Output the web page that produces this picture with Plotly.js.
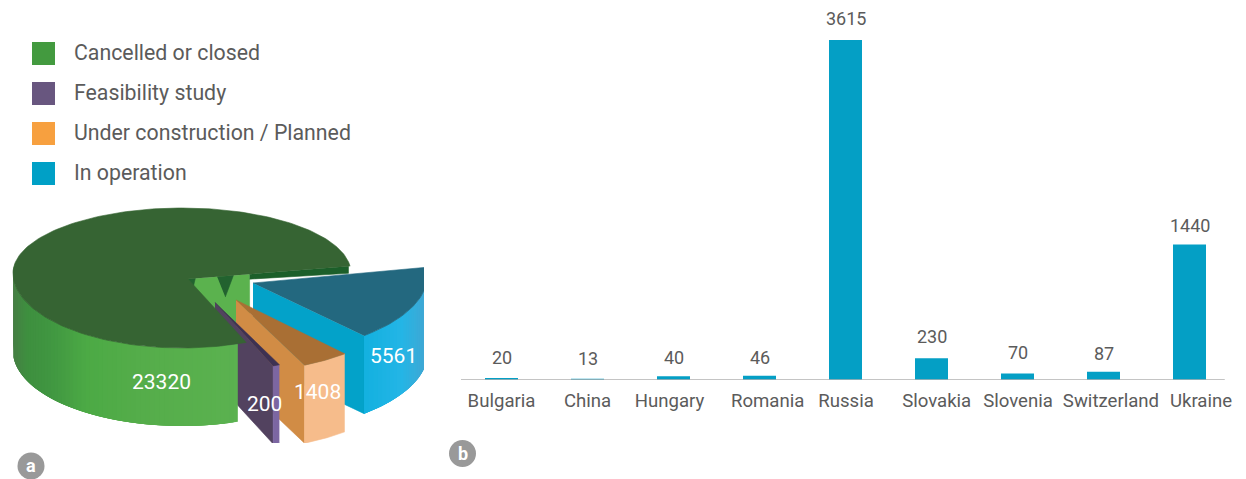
<!DOCTYPE html>
<html>
<head>
<meta charset="utf-8">
<script src="https://cdn.plot.ly/plotly-3.0.1.min.js"></script>
<style>html,body{margin:0;padding:0;background:#fff}#chart{width:1246px;height:479px}</style>
</head>
<body>
<div id="chart"></div>
<script>
// Panel a: reactor status totals
const statusNames = ['Cancelled or closed', 'Feasibility study', 'Under construction / Planned', 'In operation'];
const statusValues = [23320, 200, 1408, 5561];
const statusSwatches = ['#439a3f', '#68567f', '#f7a03f', '#00a0c6'];

// Panel b: capacity in operation by country
const countries = ['Bulgaria', 'China', 'Hungary', 'Romania', 'Russia', 'Slovakia', 'Slovenia', 'Switzerland', 'Ukraine'];
const capacity = [20, 13, 40, 46, 3615, 230, 70, 87, 1440];
const tickNudge = [0, 0, -0.047, 0.095, 0.006, 0.06, 0.006, 0.087, 0.134];
const labelShift = [8, 8, 6, 6, 9, 9, 8, 6, 7];

const FONT = 'Roboto, sans-serif';
const TEXT = '#5b5b5b';
const BAR = '#049fc5';

// Projection of the tilted disc, in the pixel-sized units of the pie axes
const disc = {cx: 182, cy: 273, rx: 169, ryBack: 65, ryFront: 75, depth: 78, hub: [188, 279]};

// Sweep runs clockwise from the start of "In operation"; the second term
// squeezes the sector angles on the near right side of the tilted disc.
function screenAngle(sweep) {
  const r = Math.PI / 180;
  return (6 - sweep + 11 * Math.sin(sweep * r)) * r;
}
function rim(sweep, scale, off) {
  const a = screenAngle(sweep), s = Math.sin(a);
  return [disc.cx + off[0] + disc.rx * scale * Math.cos(a),
          disc.cy + off[1] - (s > 0 ? disc.ryBack : disc.ryFront) * scale * s];
}
function range(a, b, n) {
  const out = [];
  for (let i = 0; i <= n; i++) out.push(a + (b - a) * i / n);
  return out;
}
function mix(stops, v) {
  for (let i = 1; i < stops.length; i++) {
    if (v <= stops[i][0] || i === stops.length - 1) {
      const f = Math.min(1, Math.max(0, (v - stops[i - 1][0]) / (stops[i][0] - stops[i - 1][0])));
      const c = [1, 2, 3].map(k => Math.round(stops[i - 1][k] + (stops[i][k] - stops[i - 1][k]) * f));
      return `rgb(${c.join(',')})`;
    }
  }
}

const traces = [];
function poly(points, color, edge) {
  traces.push({
    type: 'scatter', mode: 'lines', xaxis: 'x2', yaxis: 'y2', hoverinfo: 'skip',
    x: points.map(p => p[0]), y: points.map(p => p[1]),
    fill: 'toself', fillcolor: color, line: {color: color, width: edge === undefined ? 0.6 : edge}
  });
}
function drop(p) { return [p[0], p[1] + disc.depth]; }

// Shaded rim: each band runs a little past the next one, which paints over it
function shadedRim(arc, stops, keep) {
  for (let k = 0; k < arc.length - 1; k++) {
    if (!keep(arc[k])) continue;
    const span = arc.slice(k, Math.min(k + 5, arc.length));
    const mid = arc[k + 1];
    poly(span.concat(span.slice().reverse().map(drop)), mix(stops, mid[0]), 0);
  }
}

// Sector limits in degrees, walking clockwise from the last status
const total = statusValues.reduce((a, b) => a + b, 0);
const limits = {};
let run = 0;
for (let i = statusValues.length - 1; i >= 0; i--) {
  limits[i] = [run, run + statusValues[i] / total * 360];
  run = limits[i][1];
}

const sliceStyle = {
  1: {apexOff: [27, 23.5], rimOff: [27, 23.5], scale: 1, top: '#3d3152', wall: '#52425f', front: '#7c66a2'},
  2: {apexOff: [48, 21], rimOff: [50, 22], scale: 1.03, top: '#a96f34', wall: '#d18c45', front: '#f6bc8b'},
  3: {apexOff: [65, 4], rimOff: [65, 1.5], scale: 1.07, top: '#23687f', wall: '#03a2c9', front: null}
};

// Inner cut wall of the large sector, seen through the gap
const startRim = rim(limits[0][1], 1, [0, 0]);
const along = f => [disc.hub[0] + (startRim[0] - disc.hub[0]) * f, disc.hub[1] + (startRim[1] - disc.hub[1]) * f];
const wallStop = 0.38;
poly([along(0), along(wallStop), drop(along(wallStop)), drop(along(0))], '#5bb24e');
[[0, 0.045, 15], [0.18, 0.28, 21]].forEach(t => {
  const a = along(t[0]), b = along(t[1]);
  poly([a, b, [(a[0] + b[0]) / 2, (a[1] + b[1]) / 2 + t[2]]], '#22622f');
});
const stripEnd = along(0.99);
poly([along(wallStop), stripEnd, [stripEnd[0], stripEnd[1] + 7], [along(wallStop)[0], along(wallStop)[1] + 5]], '#1c5f2a');

// Pulled-out sectors, farthest first
[3, 2, 1].forEach(i => {
  const st = sliceStyle[i], lim = limits[i];
  const apex = [disc.hub[0] + st.apexOff[0], disc.hub[1] + st.apexOff[1]];
  const arc = range(lim[0], lim[1], 30).map(t => rim(t, st.scale, st.rimOff));
  const near = arc[arc.length - 1];
  poly([apex, near, drop(near), drop(apex)], st.wall);
  if (st.front) {
    poly(arc.concat(arc.slice().reverse().map(drop)), st.front);
  } else {
    shadedRim(arc, [[360, 18, 176, 223], [400, 36, 181, 230], [424, 63, 168, 212]], p => p[1] >= 270);
  }
  poly([apex].concat(arc), st.top);
});

// Large sector, drawn last so its rim and top sit over the neighbouring wall
const greenArc = range(limits[0][0], limits[0][1], 180).map(t => rim(t, 1, [0, 0]));
shadedRim(greenArc,
  [[9, 96, 125, 92], [14, 70, 128, 68], [26, 62, 143, 63], [48, 64, 150, 65], [85, 76, 170, 69], [140, 85, 173, 74], [240, 91, 178, 80]],
  p => p[1] >= disc.cy - 1 && p[0] < 240);
poly([disc.hub].concat(greenArc), '#366433');

// Legend swatches
const swatchY = [53.5, 93.5, 133.5, 173.5];
traces.push({
  type: 'scatter', mode: 'markers', xaxis: 'x2', yaxis: 'y2', hoverinfo: 'skip',
  x: statusNames.map(() => 43.5), y: swatchY,
  marker: {symbol: 'square', size: 23, color: statusSwatches, line: {width: 0}}
});

// Bars
traces.push({
  type: 'bar', x: countries.map((c, i) => i), y: capacity, width: 33 / 86,
  marker: {color: BAR}, hovertemplate: '%{y}<extra></extra>'
});

const pieLabelX = [161, 264, 317, 393];
const pieLabelY = [382, 404, 392, 356];
const annotations = [];
statusNames.forEach((n, i) => {
  annotations.push({xref: 'x2', yref: 'y2', x: 71.5, y: swatchY[i] - 1, text: n, showarrow: false,
    xanchor: 'left', yanchor: 'middle', font: {family: FONT, size: 21.3, color: TEXT}});
  annotations.push({xref: 'x2', yref: 'y2', x: pieLabelX[i], y: pieLabelY[i], text: String(statusValues[i]), showarrow: false,
    font: {family: FONT, size: 21, color: '#ffffff'}});
});
capacity.forEach((v, i) => annotations.push({
  xref: 'x', yref: 'y', x: i, y: v, text: String(v), showarrow: false, yanchor: 'bottom', yshift: labelShift[i],
  font: {family: FONT, size: 18, color: TEXT}
}));

// Panel badges
const badges = [['a', 31, 466], ['b', 462.5, 453.5]];
const shapes = badges.map(b => ({
  type: 'circle', xref: 'paper', yref: 'paper', layer: 'above',
  x0: (b[1] - 13.5) / 1246, x1: (b[1] + 13.5) / 1246,
  y0: 1 - (b[2] + 13.5) / 479, y1: 1 - (b[2] - 13.5) / 479,
  fillcolor: '#999999', line: {width: 0}
}));
badges.forEach(b => annotations.push({
  xref: 'paper', yref: 'paper', x: b[1] / 1246, y: 1 - (b[2] - 0.5) / 479, text: '<b>' + b[0] + '</b>', showarrow: false,
  xanchor: 'center', yanchor: 'middle',
  font: {family: FONT, size: 18, color: '#ffffff'}
}));

// Baseline of the bars
shapes.push({type: 'line', xref: 'x', yref: 'y', x0: -0.471, x1: 8.41, y0: 0, y1: 0, line: {color: '#b0b0b0', width: 1.5}});

const hidden = {visible: false, fixedrange: true};
const layout = {
  width: 1246, height: 479, margin: {l: 0, r: 0, t: 0, b: 0},
  paper_bgcolor: '#ffffff', plot_bgcolor: 'rgba(0,0,0,0)', showlegend: false,
  font: {family: FONT, color: TEXT},
  xaxis: {
    domain: [458.5 / 1246, 1232.5 / 1246], range: [-0.5, 8.5], fixedrange: true,
    tickmode: 'array', tickvals: countries.map((c, i) => i + tickNudge[i]), ticktext: countries,
    showgrid: false, zeroline: false, showline: false,
    ticks: 'outside', ticklen: 4, tickcolor: 'rgba(0,0,0,0)', tickangle: 0,
    tickfont: {family: FONT, size: 18.6, color: TEXT}
  },
  yaxis: {
    domain: [99 / 479, 439 / 479], range: [0, 3615], visible: false, fixedrange: true
  },
  xaxis2: Object.assign({domain: [0, 424 / 1246], range: [0, 424], anchor: 'y2'}, hidden),
  yaxis2: Object.assign({domain: [36 / 479, 1], range: [443, 0], anchor: 'x2'}, hidden),
  annotations: annotations, shapes: shapes
};
Plotly.newPlot('chart', traces, layout, {displayModeBar: false, staticPlot: true});
</script>
</body>
</html>
